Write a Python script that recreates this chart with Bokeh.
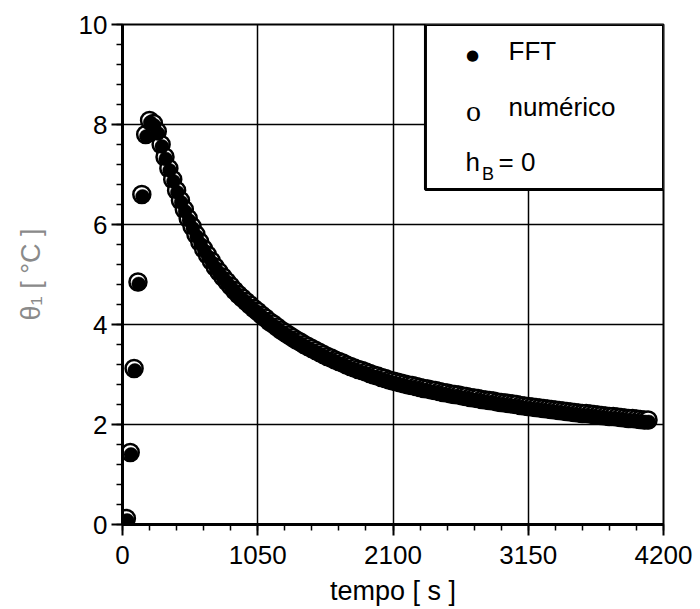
from bokeh.plotting import figure
from bokeh.models import Range1d, SingleIntervalTicker, BoxAnnotation, Label, ColumnDataSource
from bokeh.transform import dodge
from bokeh.embed import file_html
from bokeh.resources import INLINE

# ---- data ----
time_s = [0, 30, 60, 90, 120, 150, 180, 210, 240, 270, 300, 330, 360, 390, 420, 450, 480, 510, 540, 570,
          600, 630, 660, 690, 720, 750, 780, 810, 840, 870, 900, 930, 960, 990, 1020, 1050, 1080, 1110, 1140, 1170,
          1200, 1230, 1260, 1290, 1320, 1350, 1380, 1410, 1440, 1470, 1500, 1530, 1560, 1590, 1620, 1650, 1680, 1710,
          1740, 1770, 1800, 1830, 1860, 1890, 1920, 1950, 1980, 2010, 2040, 2070, 2100, 2130, 2160, 2190, 2220, 2250,
          2280, 2310, 2340, 2370, 2400, 2430, 2460, 2490, 2520, 2550, 2580, 2610, 2640, 2670, 2700, 2730, 2760, 2790,
          2820, 2850, 2880, 2910, 2940, 2970, 3000, 3030, 3060, 3090, 3120, 3150, 3180, 3210, 3240, 3270, 3300, 3330,
          3360, 3390, 3420, 3450, 3480, 3510, 3540, 3570, 3600, 3630, 3660, 3690, 3720, 3750, 3780, 3810, 3840, 3870,
          3900, 3930, 3960, 3990, 4020, 4050, 4080]

theta_numerico = [-0.15, 0.12, 1.44, 3.12, 4.85, 6.60, 7.80, 8.08, 8.02, 7.86, 7.60, 7.35, 7.12, 6.90, 6.68, 6.48,
                  6.30, 6.12, 5.96, 5.80, 5.65, 5.51, 5.39, 5.27, 5.15, 5.05, 4.95, 4.86, 4.77, 4.68, 4.60, 4.53,
                  4.46, 4.39, 4.32, 4.26, 4.19, 4.13, 4.06, 4.01, 3.95, 3.89, 3.84, 3.79, 3.74, 3.69, 3.65, 3.60,
                  3.56, 3.52, 3.48, 3.44, 3.40, 3.36, 3.33, 3.29, 3.26, 3.23, 3.19, 3.16, 3.13, 3.10, 3.08, 3.05,
                  3.02, 2.99, 2.97, 2.94, 2.92, 2.89, 2.87, 2.85, 2.83, 2.81, 2.79, 2.78, 2.76, 2.74, 2.72, 2.71,
                  2.69, 2.68, 2.66, 2.64, 2.63, 2.61, 2.60, 2.59, 2.57, 2.56, 2.54, 2.53, 2.52, 2.50, 2.49, 2.48,
                  2.47, 2.45, 2.44, 2.43, 2.42, 2.41, 2.40, 2.38, 2.37, 2.36, 2.35, 2.34, 2.33, 2.32, 2.31, 2.30,
                  2.29, 2.28, 2.27, 2.26, 2.25, 2.24, 2.23, 2.22, 2.22, 2.21, 2.20, 2.19, 2.18, 2.17, 2.16, 2.16,
                  2.15, 2.14, 2.13, 2.12, 2.12, 2.11, 2.10, 2.09, 2.09]

theta_fft = [-0.12, 0.12, 1.44, 3.12, 4.85, 6.60, 7.80, 8.08, 8.02, 7.86, 7.60, 7.35, 7.12, 6.90, 6.68, 6.48,
             6.30, 6.12, 5.96, 5.80, 5.65, 5.51, 5.39, 5.27, 5.15, 5.05, 4.95, 4.86, 4.77, 4.68, 4.60, 4.53,
             4.46, 4.39, 4.32, 4.26, 4.19, 4.13, 4.06, 4.01, 3.95, 3.89, 3.84, 3.79, 3.74, 3.69, 3.65, 3.60,
             3.56, 3.52, 3.48, 3.44, 3.40, 3.36, 3.33, 3.29, 3.26, 3.23, 3.19, 3.16, 3.13, 3.10, 3.08, 3.05,
             3.02, 2.99, 2.97, 2.94, 2.92, 2.89, 2.87, 2.85, 2.83, 2.81, 2.79, 2.78, 2.76, 2.74, 2.72, 2.71,
             2.69, 2.68, 2.66, 2.64, 2.63, 2.61, 2.60, 2.59, 2.57, 2.56, 2.54, 2.53, 2.52, 2.50, 2.49, 2.48,
             2.47, 2.45, 2.44, 2.43, 2.42, 2.41, 2.40, 2.38, 2.37, 2.36, 2.35, 2.34, 2.33, 2.32, 2.31, 2.30,
             2.29, 2.28, 2.27, 2.26, 2.25, 2.24, 2.23, 2.22, 2.22, 2.21, 2.20, 2.19, 2.18, 2.17, 2.16, 2.16,
             2.15, 2.14, 2.13, 2.12, 2.12, 2.11, 2.10, 2.09, 2.09]

x_ticks = [0, 1050, 2100, 3150, 4200]
y_ticks = [0, 2, 4, 6, 8, 10]
x_title = "tempo [ s ]"
y_title = "θ₁ [ °C ]"

FONT = "Liberation Sans"

src_num = ColumnDataSource(dict(t=time_s, y=theta_numerico))
src_fft = ColumnDataSource(dict(t=time_s, y=theta_fft))

p = figure(width=700, height=609, output_backend="svg", toolbar_location=None,
           x_range=Range1d(x_ticks[0], x_ticks[-1]), y_range=Range1d(y_ticks[0], y_ticks[-1]),
           min_border_left=122, min_border_right=37, min_border_top=24, min_border_bottom=85)
p.background_fill_color = "white"
p.border_fill_color = "white"
p.outline_line_color = "black"
p.outline_line_width = 2

p.xaxis.ticker = SingleIntervalTicker(interval=1050, num_minor_ticks=5)
p.yaxis.ticker = SingleIntervalTicker(interval=2, num_minor_ticks=5)

for ax in (p.xaxis[0], p.yaxis[0]):
    ax.axis_line_width = 3
    ax.axis_line_color = "black"
    ax.major_tick_line_color = "black"
    ax.major_tick_line_width = 2
    ax.minor_tick_line_color = "black"
    ax.minor_tick_line_width = 1.5
    ax.major_tick_in = 0
    ax.major_tick_out = 11
    ax.minor_tick_in = 0
    ax.minor_tick_out = 6
    ax.major_label_text_font = FONT
    ax.major_label_text_font_size = "26px"
    ax.major_label_text_color = "black"
    ax.axis_label_text_font = FONT
    ax.axis_label_text_font_style = "normal"

p.xaxis.major_label_standoff = 10
p.yaxis.major_label_standoff = 4
p.xaxis.axis_label = x_title
p.xaxis.axis_label_text_font_size = "27px"
p.xaxis.axis_label_text_color = "black"
p.xaxis.axis_label_text_line_height = 1.0
p.xaxis.axis_label_standoff = 9
p.yaxis.axis_label = y_title
p.yaxis.axis_label_text_font_size = "27px"
p.yaxis.axis_label_text_color = "#8a8a8a"
p.yaxis.axis_label_standoff = 30

p.xgrid.grid_line_color = "black"
p.xgrid.grid_line_width = 1.5
p.ygrid.grid_line_color = "black"
p.ygrid.grid_line_width = 1.5

# numérico: open circles
p.scatter(x="t", y="y", source=src_num, marker="circle", size=17,
          fill_color="white", line_color="black", line_width=2.5)
# FFT: filled dots (drawn slightly lower, as in the picture)
p.scatter(x=dodge("t", 6, range=p.x_range), y=dodge("y", -0.04, range=p.y_range), source=src_fft,
          marker="circle", size=14, fill_color="black", line_color="black", line_width=0.5)

# legend box
p.add_layout(BoxAnnotation(left=2352, right=4200, top=10, bottom=6.7,
                           fill_color="white", fill_alpha=1.0,
                           line_color="black", line_width=3, line_alpha=1.0))

def lab(x, y, text, size, align="left", baseline="alphabetic", font=FONT):
    p.add_layout(Label(x=x, y=y, text=text, text_font=font, text_font_size=size,
                       text_align=align, text_baseline=baseline, text_color="black"))

lab(2717, 9.40, "●", "15px", align="center", baseline="middle", font="DejaVu Sans")
lab(2997, 9.47, "FFT", "26px")
lab(2725, 8.28, "o", "30px", align="center", font="Liberation Serif")
lab(2997, 8.36, "numérico", "26px")
lab(2663, 7.26, "h", "26px")
lab(2790, 7.02, "B", "18px")
lab(2919, 7.26, "= 0", "26px")

open("out.html", "w").write(file_html(p, INLINE))
